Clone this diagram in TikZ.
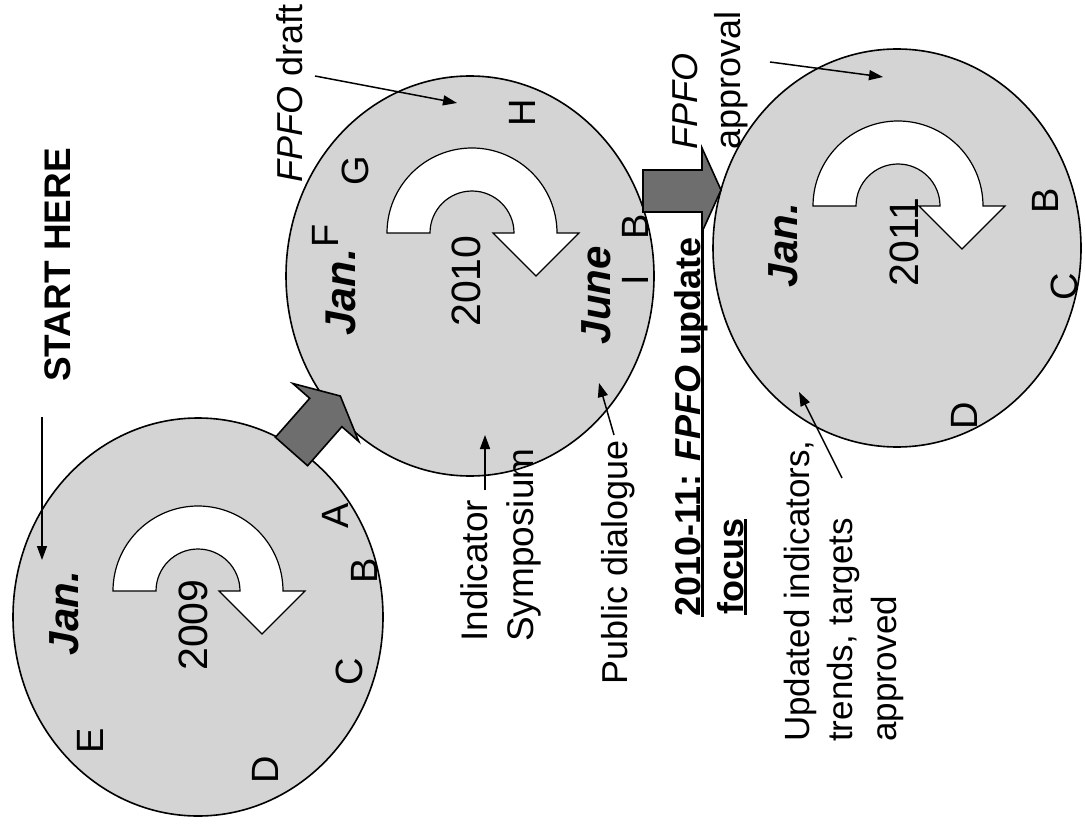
\documentclass[tikz,border=0pt]{standalone}
\usepackage{fontspec}
\setmainfont{Liberation Sans}
\newsavebox{\ulsave}
\newcommand{\ulline}[1]{\sbox{\ulsave}{#1}\rlap{\usebox{\ulsave}}\rule[-3.5pt]{\wd\ulsave}{2.5pt}}
\usetikzlibrary{arrows.meta}
\tikzset{
  circ/.style={draw=black, line width=1.6pt, fill=black!17},
  turn/.style={draw=black, line width=1.2pt, fill=white},
  block/.style={draw=black, line width=1.6pt, fill=black!57},
  lbl/.style={rotate=90, inner sep=0pt, anchor=base west, font=\fontsize{36}{40}\selectfont},
  ltr/.style={rotate=90, inner sep=0pt, anchor=base, font=\fontsize{38}{42}\selectfont},
  big/.style={rotate=90, inner sep=0pt, anchor=base, font=\fontsize{42}{46}\selectfont\bfseries\itshape},
  yr/.style={rotate=90, inner sep=0pt, anchor=base, font=\fontsize{41}{46}\selectfont},
  pointer/.style={line width=1.5pt, -{Triangle[length=14pt,width=10pt]}},
  turnarrow/.pic={\draw[turn] (-42,0) -- (-85,0) arc[start angle=180,end angle=360,radius=85] -- (107,0) -- (64,43) -- (21,0) -- (42,0) arc[start angle=360,end angle=180,radius=42] -- cycle;}
}
\begin{document}
\begin{tikzpicture}[x=1pt,y=-1pt]
\useasboundingbox[fill=white] (0,0) rectangle (1086,834);

% circles
\draw[circ] (198,617) ellipse [x radius=185pt, y radius=199pt];
\draw[circ] (470,276) ellipse [x radius=184pt, y radius=200pt];
\draw[circ] (897,248) ellipse [x radius=184pt, y radius=199pt];

% turning arrows
\pic at (198,591) {turnarrow};
\pic at (472,233) {turnarrow};
\pic at (898,206) {turnarrow};

% circle 1
\node[big] (jan1) at (78,613) {Jan.};
\node[yr] (y2009) at (207,625) {2009};
\node[ltr] (a1) at (348,516) {A};
\node[ltr] (b1) at (377,571) {B};
\node[ltr] (c1) at (362,672) {C};
\node[ltr] (d1) at (278,770) {D};
\node[ltr] (e1) at (103,741) {E};

% circle 2
\node[big, font=\fontsize{43}{46}\selectfont\bfseries\itshape] (jan2) at (355,292) {Jan.};
\node[ltr] (f2) at (338,236) {F};
\node[ltr] (g2) at (368,171) {G};
\node[ltr] (h2) at (535,113) {H};
\node[yr] (y2010) at (480,281) {2010};
\node[big] (june) at (610,295) {June};
\node[ltr] (i2) at (648,280) {I};
\node[ltr] (b2) at (648,227) {B};

% circle 3
\node[big] (jan3) at (797,245) {Jan.};
\node[yr] (y2011) at (918,242) {2011};
\node[ltr] (b3) at (1058,201) {B};
\node[ltr] (c3) at (1077,287) {C};
\node[ltr] (d3) at (977,416) {D};

% labels
\node[lbl, anchor=base, font=\fontsize{37}{40}\selectfont\bfseries] (start) at (70,265) {START HERE};
\node[lbl] (draft) at (302,183) {\textit{FPFO} draft};
\node[lbl, font=\fontsize{37}{40}\selectfont] (ind1) at (487,642) {Indicator};
\node[lbl, font=\fontsize{37}{40}\selectfont] (ind2) at (533,642) {Symposium};
\node[lbl] (pub) at (627,685) {Public dialogue};
\node[lbl, font=\fontsize{36}{40}\selectfont\bfseries] (upd1) at (700,617) {\ulline{2010-11: {\itshape FPFO} update\ }};
\node[lbl, font=\fontsize{36}{40}\selectfont\bfseries] (upd2) at (743,615) {\ulline{focus}};
\node[lbl] (appr1) at (697,150) {\textit{FPFO}};
\node[lbl] (appr2) at (740,150) {approval};
\node[lbl, font=\fontsize{35}{40}\selectfont] (ut1) at (809,742) {Updated indicators,};
\node[lbl, font=\fontsize{35}{40}\selectfont] (ut2) at (852,742) {trends, targets};
\node[lbl, font=\fontsize{35}{40}\selectfont] (ut3) at (896,742) {approved};

% block arrows
\draw[block] (275.4,437.3) -- (307.6,465.7) -- (341.9,426.7) -- (358.8,441.5) -- (340.3,396) -- (292.8,383.5) -- (309.7,398.3) -- cycle;
\draw[block] (643,170) -- (702,170) -- (702,148) -- (721,190) -- (702,232) -- (702,212) -- (643,212) -- cycle;

% pointers
\coordinate (s0) at (42,417); \coordinate (s1) at (42,560);
\coordinate (dr0) at (315,76); \coordinate (dr1) at (457,103);
\coordinate (in0) at (485,490); \coordinate (in1) at (485,435);
\coordinate (pb0) at (614,435); \coordinate (pb1) at (599,383);
\coordinate (ap0) at (770,62); \coordinate (ap1) at (883,77);
\coordinate (ud0) at (842,478); \coordinate (ud1) at (799,392);
\draw[pointer] (s0) -- (s1);
\draw[pointer] (dr0) -- (dr1);
\draw[pointer] (in0) -- (in1);
\draw[pointer] (pb0) -- (pb1);
\draw[pointer] (ap0) -- (ap1);
\draw[pointer] (ud0) -- (ud1);
\end{tikzpicture}
\end{document}
